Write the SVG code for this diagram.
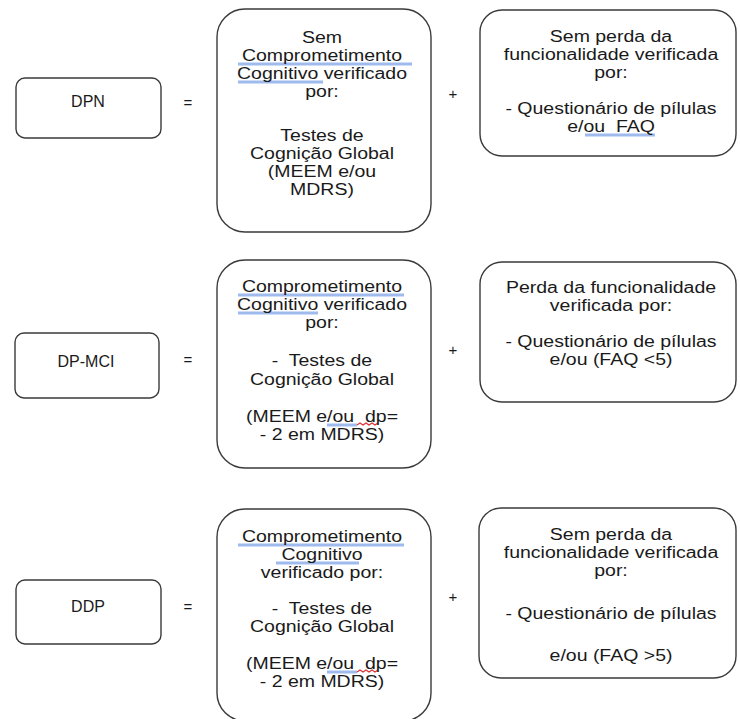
<svg xmlns="http://www.w3.org/2000/svg" width="740" height="719" viewBox="0 0 740 719">
<style>
.box{fill:#fff;stroke:#3a3a3a;stroke-width:1.4}
.t{font-family:"Liberation Sans",Arial,sans-serif;font-size:15.6px;fill:#1a1a1a;text-anchor:middle}
.lbl{font-family:"Liberation Sans",Arial,sans-serif;font-size:16px;fill:#1a1a1a;text-anchor:middle}
.op{font-family:"Liberation Sans",Arial,sans-serif;font-size:15px;fill:#1a1a1a;text-anchor:middle}
.sp{stroke:#8fb0ea;stroke-width:3;opacity:0.85}
.sr{fill:none;stroke:#d33;stroke-width:1.2}
</style>
<rect width="740" height="719" fill="#fff"/>
<g id="connectors">
<text class="op" x="188" y="108">=</text>
<text class="op" x="453" y="99">+</text>
<text class="op" x="188" y="365">=</text>
<text class="op" x="453" y="355">+</text>
<text class="op" x="188" y="612">=</text>
<text class="op" x="453" y="602">+</text>
</g>
<g id="dpn">
<rect class="box" x="16" y="78" width="145" height="60" rx="9"/>
<text class="lbl" x="88" y="107">DPN</text>
</g>
<g id="dpn-cog">
<rect class="box" x="217" y="9" width="214" height="223" rx="28"/>
<line class="sp" x1="238" y1="64" x2="412" y2="64"/>
<line class="sp" x1="238" y1="82" x2="323" y2="82"/>
<g transform="translate(322 0) scale(1.25 1)">
<text class="t" x="0" y="43">Sem</text>
<text class="t" x="0" y="61">Comprometimento</text>
<text class="t" x="0" y="79">Cognitivo verificado</text>
<text class="t" x="0" y="97">por:</text>
<text class="t" x="0" y="141">Testes de</text>
<text class="t" x="0" y="159">Cognição Global</text>
<text class="t" x="0" y="177">(MEEM e/ou</text>
<text class="t" x="0" y="195">MDRS)</text>
</g>
</g>
<g id="dpn-func">
<rect class="box" x="480" y="10" width="256" height="146" rx="22"/>
<line class="sp" x1="585" y1="135" x2="655" y2="135"/>
<g transform="translate(611 0) scale(1.25 1)">
<text class="t" x="0" y="42">Sem perda da</text>
<text class="t" x="0" y="60">funcionalidade verificada</text>
<text class="t" x="0" y="78">por:</text>
<text class="t" x="0" y="114">- Questionário de pílulas</text>
<text class="t" x="0" y="132" xml:space="preserve">e/ou  FAQ</text>
</g>
</g>
<g id="dpmci">
<rect class="box" x="15" y="333" width="144" height="65" rx="9"/>
<text class="lbl" x="86" y="367">DP-MCI</text>
</g>
<g id="dpmci-cog">
<rect class="box" x="217" y="260" width="214" height="208" rx="28"/>
<line class="sp" x1="238" y1="295" x2="404" y2="295"/>
<line class="sp" x1="238" y1="313" x2="318" y2="313"/>
<line class="sp" x1="327" y1="425" x2="357" y2="425"/>
<path class="sr" d="M357 425 l3 -2 l3 2 l3 -2 l3 2 l3 -2 l3 2 l3 -2"/>
<g transform="translate(322 0) scale(1.25 1)">
<text class="t" x="0" y="292">Comprometimento</text>
<text class="t" x="0" y="310">Cognitivo verificado</text>
<text class="t" x="0" y="328">por:</text>
<text class="t" x="0" y="366" xml:space="preserve">-  Testes de</text>
<text class="t" x="0" y="385">Cognição Global</text>
<text class="t" x="0" y="422" xml:space="preserve">(MEEM e/ou  dp=</text>
<text class="t" x="0" y="440">- 2 em MDRS)</text>
</g>
</g>
<g id="dpmci-func">
<rect class="box" x="480" y="262" width="256" height="140" rx="22"/>
<g transform="translate(611 0) scale(1.25 1)">
<text class="t" x="0" y="293">Perda da funcionalidade</text>
<text class="t" x="0" y="311">verificada por:</text>
<text class="t" x="0" y="347">- Questionário de pílulas</text>
<text class="t" x="0" y="365">e/ou (FAQ &lt;5)</text>
</g>
</g>
<g id="ddp">
<rect class="box" x="16" y="580" width="145" height="64" rx="9"/>
<text class="lbl" x="88" y="612">DDP</text>
</g>
<g id="ddp-cog">
<rect class="box" x="217" y="509" width="214" height="212" rx="28"/>
<line class="sp" x1="238" y1="545" x2="404" y2="545"/>
<line class="sp" x1="276" y1="563" x2="359" y2="563"/>
<line class="sp" x1="327" y1="672" x2="357" y2="672"/>
<path class="sr" d="M357 672 l3 -2 l3 2 l3 -2 l3 2 l3 -2 l3 2 l3 -2"/>
<g transform="translate(322 0) scale(1.25 1)">
<text class="t" x="0" y="542">Comprometimento</text>
<text class="t" x="0" y="560">Cognitivo</text>
<text class="t" x="0" y="578">verificado por:</text>
<text class="t" x="0" y="614" xml:space="preserve">-  Testes de</text>
<text class="t" x="0" y="632">Cognição Global</text>
<text class="t" x="0" y="669" xml:space="preserve">(MEEM e/ou  dp=</text>
<text class="t" x="0" y="687">- 2 em MDRS)</text>
</g>
</g>
<g id="ddp-func">
<rect class="box" x="479" y="508" width="257" height="170" rx="22"/>
<g transform="translate(611 0) scale(1.25 1)">
<text class="t" x="0" y="540">Sem perda da</text>
<text class="t" x="0" y="558">funcionalidade verificada</text>
<text class="t" x="0" y="576">por:</text>
<text class="t" x="0" y="619">- Questionário de pílulas</text>
<text class="t" x="0" y="661">e/ou (FAQ &gt;5)</text>
</g>
</g>
</svg>
